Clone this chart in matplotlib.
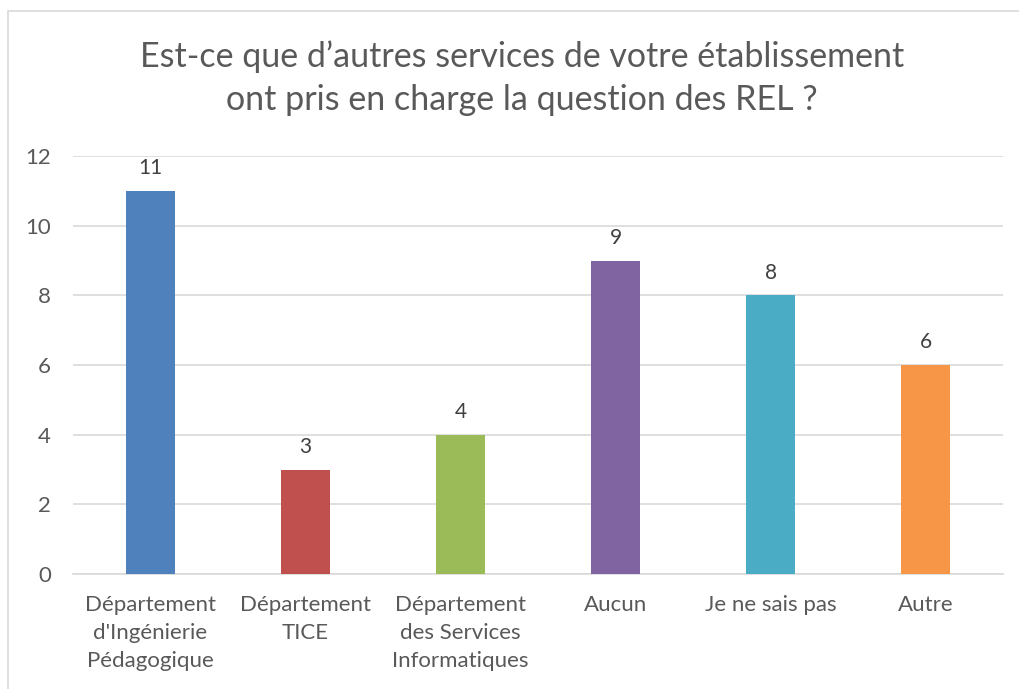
import matplotlib
matplotlib.use('Agg')
import matplotlib.pyplot as plt
from matplotlib.patches import Rectangle

categories = ["Département\nd'Ingénierie\nPédagogique", "Département\nTICE",
              "Département\ndes Services\nInformatiques", "Aucun", "Je ne sais pas", "Autre"]
values = [11, 3, 4, 9, 8, 6]
colors = ['#4F81BD', '#C0504D', '#9BBB59', '#8064A2', '#4BACC6', '#F79646']
yticks = [0, 2, 4, 6, 8, 10, 12]

plt.rcParams['font.family'] = ['Lato', 'DejaVu Sans']

fig = plt.figure(figsize=(10.19, 6.89), dpi=100)
fig.patches.append(Rectangle((8 / 1019, -0.01), 1.1, 1 - 11 / 689 + 0.01, transform=fig.transFigure,
                             fill=False, edgecolor='#D9D9D9', linewidth=1.2))
ax = fig.add_axes([73 / 1019, 1 - 574 / 689, 930 / 1019, 418 / 689])

x = range(len(categories))
bars = ax.bar(x, values, width=0.316, color=colors, zorder=3)
for xi, v in zip(x, values):
    ax.annotate(str(v), (xi, v), xytext=(0, 9), textcoords='offset points',
                ha='center', va='bottom', fontsize=15, color='#404040')

ax.set_xlim(-0.5, len(categories) - 0.5)
ax.set_ylim(0, 12)
ax.set_yticks(yticks)
ax.set_xticks(list(x))
ax.set_xticklabels(categories, fontsize=16, color='#595959', linespacing=1.5)
ax.tick_params(axis='y', labelsize=16, labelcolor='#595959', length=0, pad=16)
ax.tick_params(axis='x', length=0, pad=15)
ax.grid(axis='y', color='#D9D9D9', linewidth=1.2, zorder=0)
for s in ['top', 'right', 'left']:
    ax.spines[s].set_visible(False)
ax.spines['bottom'].set_color('#D9D9D9')
ax.spines['bottom'].set_linewidth(1.2)

fig.text(0.512, 1 - 78 / 689, "Est-ce que d\u2019autres services de votre établissement\nont pris en charge la question des REL ?",
         ha='center', va='center', fontsize=24.5, color='#595959', linespacing=1.4)

fig.savefig('out.png', dpi=100)
